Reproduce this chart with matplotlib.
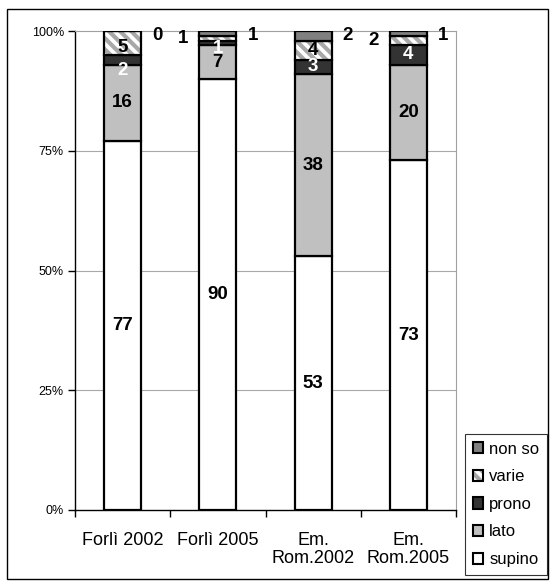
import matplotlib
matplotlib.use("Agg")
import matplotlib.pyplot as plt
import numpy as np
from matplotlib.patches import Rectangle, Patch

plt.rcParams['font.family'] = ['Liberation Sans', 'DejaVu Sans']
plt.rcParams['hatch.linewidth'] = 3.0

categories = ["Forlì 2002", "Forlì 2005", "Em.\nRom.2002", "Em.\nRom.2005"]
series_names = ["supino", "lato", "prono", "varie", "non so"]
supino = [77, 90, 53, 73]
lato = [16, 7, 38, 20]
prono = [2, 1, 3, 4]
varie = [5, 1, 4, 2]
non_so = [0, 1, 2, 1]
y_ticks = [0, 25, 50, 75, 100]
y_tick_labels = ["0%", "25%", "50%", "75%", "100%"]

series = [supino, lato, prono, varie, non_so]
colors = ["white", "#c0c0c0", "#333333", "white", "#808080"]
hatches = [None, None, None, "\\\\\\", None]
hatch_col = "#a8a8a8"
label_colors = ["black", "black", "white", "black", "black"]
# label placement per series/category: 'in', 'left', 'right'
placement = [
    ["in"] * 4,
    ["in"] * 4,
    ["in"] * 4,
    ["in", "left", "in", "left"],
    ["right"] * 4,
]
# small manual label shifts (points) mimicking the original layout
label_dy = {(2, 0): -8, (2, 1): -4, (3, 0): -3}

W, H = 553, 583
fig = plt.figure(figsize=(W / 100, H / 100), dpi=100)
ax = fig.add_axes([75 / W, 1 - 510 / H, 381 / W, 479 / H])

x = np.arange(len(categories))
bw = 0.39
bottom = np.zeros(len(categories))
for i, (vals, col, hat) in enumerate(zip(series, colors, hatches)):
    vals = np.array(vals, dtype=float)
    if hat:
        ax.bar(x, vals, bw, bottom=bottom, color=col, edgecolor=hatch_col,
               linewidth=0, hatch=hat, zorder=3)
        ax.bar(x, vals, bw, bottom=bottom, fill=False, edgecolor="black",
               linewidth=1.6, zorder=3)
    else:
        ax.bar(x, vals, bw, bottom=bottom, color=col, edgecolor="black",
               linewidth=1.6, zorder=3)
    for j in range(len(categories)):
        yc = bottom[j] + vals[j] / 2
        dy = label_dy.get((i, j), 0)
        if placement[i][j] == "in":
            ax.annotate(f"{int(vals[j])}", (x[j], yc), xytext=(0, dy),
                        textcoords="offset points", ha="center", va="center",
                        fontsize=13.5, fontweight="bold", color=label_colors[i], zorder=5)
        elif placement[i][j] == "right":
            ax.annotate(f"{int(vals[j])}", (x[j] + bw / 2, min(yc, 99)),
                        xytext=(8, dy), textcoords="offset points",
                        ha="left", va="center", fontsize=13.5, fontweight="bold", zorder=5)
        else:
            ax.annotate(f"{int(vals[j])}", (x[j] - bw / 2, yc),
                        xytext=(-8, dy), textcoords="offset points",
                        ha="right", va="center", fontsize=13.5, fontweight="bold", zorder=5)
    bottom += vals

ax.set_xlim(-0.5, len(categories) - 0.5)
ax.set_ylim(0, 100)
ax.set_yticks(y_ticks)
ax.set_yticklabels(y_tick_labels, fontsize=9)
for yv in y_ticks[1:-1]:
    ax.axhline(yv, color="#a8a8a8", linewidth=0.8, zorder=1)

ax.set_xticks(np.arange(-0.5, len(categories), 1.0))
ax.set_xticklabels([])
ax.set_xticks(x, minor=True)
ax.set_xticklabels(categories, minor=True, fontsize=13, va="top", linespacing=1.05)
ax.tick_params(axis="x", which="minor", length=0, pad=16)
ax.tick_params(axis="x", which="major", length=5, width=1, direction="out")
ax.tick_params(axis="y", length=5, width=1, direction="out", pad=3)

ax.spines["left"].set_color("black")
ax.spines["bottom"].set_color("black")
ax.spines["left"].set_linewidth(1)
ax.spines["bottom"].set_linewidth(1)
ax.spines["top"].set_color("#a0a0a0")
ax.spines["right"].set_color("#a0a0a0")

handles = []
for c, h in zip(colors, hatches):
    if h:
        handles.append((Patch(facecolor=c, edgecolor=hatch_col, hatch=h, linewidth=0),
                        Patch(fill=False, edgecolor="black", linewidth=1.5)))
    else:
        handles.append(Patch(facecolor=c, edgecolor="black", linewidth=1.5))
handles = handles[::-1]
leg = fig.legend(handles, series_names[::-1], loc="upper left",
                 bbox_to_anchor=(465 / W, 1 - 434 / H),
                 fontsize=12, frameon=True, fancybox=False, edgecolor="black",
                 handlelength=0.65, handleheight=0.65, handletextpad=0.35,
                 labelspacing=0.76, borderpad=0.45, borderaxespad=0)
leg.get_frame().set_linewidth(0.8)

fig.patches.append(Rectangle((7 / W, 1 - 579 / H), 541 / W, 570 / H,
                             transform=fig.transFigure, fill=False,
                             edgecolor="black", linewidth=1))

fig.savefig("out.png", dpi=100)
